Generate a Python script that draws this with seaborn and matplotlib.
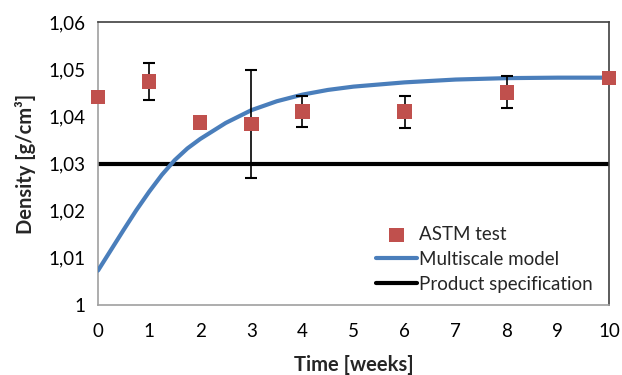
import matplotlib
matplotlib.use("Agg")
import matplotlib.pyplot as plt
import matplotlib.ticker as mticker
import seaborn as sns
import pandas as pd

# ASTM test measurements
astm_weeks = [0, 1, 2, 3, 4, 6, 8, 10]
astm_density = [1.0441, 1.0474, 1.0387, 1.0384, 1.0410, 1.0410, 1.0451, 1.0481]
astm_error = [0.0, 0.0040, 0.0, 0.0114, 0.0033, 0.0034, 0.0034, 0.0]

# Multiscale model curve
model_weeks = [0, 0.25, 0.5, 0.75, 1, 1.25, 1.5, 1.75, 2, 2.5, 3, 3.5, 4, 4.5, 5, 6, 7, 8, 9, 10]
model_density = [1.0073, 1.0116, 1.0159, 1.0201, 1.0240, 1.0276, 1.0307, 1.0332, 1.0352,
                 1.0386, 1.0413, 1.0432, 1.0446, 1.0456, 1.0463, 1.0472, 1.0478, 1.0481,
                 1.0482, 1.0482]

spec_value = 1.03

x_ticks = list(range(0, 11))
y_ticks = [1.00, 1.01, 1.02, 1.03, 1.04, 1.05, 1.06]

sns.set_style("white")
plt.rcParams['font.family'] = ['Lato', 'DejaVu Sans']

fig = plt.figure(figsize=(6.22, 3.75), dpi=100)
ax = fig.add_axes([98/622, 1-305/375, (609-98)/622, (305-22)/375])

df_model = pd.DataFrame({"t": model_weeks, "d": model_density})
df_astm = pd.DataFrame({"t": astm_weeks, "d": astm_density})

ax.axhline(spec_value, color="black", lw=3, zorder=2, label="Product specification")
sns.lineplot(data=df_model, x="t", y="d", ax=ax, color="#4A7EBB", lw=3, zorder=3,
             label="Multiscale model")
ax.errorbar(astm_weeks, astm_density, yerr=astm_error, fmt="none", ecolor="black",
            elinewidth=1.2, capsize=4, capthick=1.5, zorder=4)
sns.scatterplot(data=df_astm, x="t", y="d", ax=ax, marker="s", s=110, color="#C0504D",
                edgecolor="none", zorder=5, label="ASTM test", clip_on=False)

ax.set_xlim(0, 10)
ax.set_ylim(1.0, 1.06)
ax.set_xticks(x_ticks)
ax.set_yticks(y_ticks)
ax.yaxis.set_major_formatter(mticker.FuncFormatter(lambda v, p: ("%g" % round(v, 4)).replace(".", ",")))

ax.tick_params(axis="both", which="major", direction="out", length=4, width=1,
               color="#A0A0A0", labelsize=13.5, labelcolor="black", pad=5)
ax.tick_params(axis="x", pad=9)
for side in ["left", "bottom"]:
    ax.spines[side].set_color("#A0A0A0")
    ax.spines[side].set_linewidth(1.2)
for side in ["top", "right"]:
    ax.spines[side].set_color("#404040")
    ax.spines[side].set_linewidth(1.2)

ax.set_xlabel("Time [weeks]", fontsize=14.5, fontweight="bold", labelpad=10.5)
ax.set_ylabel("Density [g/cm³]", fontsize=14.5, fontweight="bold", labelpad=9)

handles, labels = ax.get_legend_handles_labels()
order = [labels.index("ASTM test"), labels.index("Multiscale model"), labels.index("Product specification")]
leg = ax.legend([handles[i] for i in order], [labels[i] for i in order],
                loc="upper left", bbox_to_anchor=(376/622, 1-226/375),
                bbox_transform=fig.transFigure, frameon=False, fontsize=13.5,
                handlelength=2.2, handletextpad=0.1, labelspacing=0.42, borderpad=0,
                borderaxespad=0)

fig.savefig("out.png", dpi=100)
